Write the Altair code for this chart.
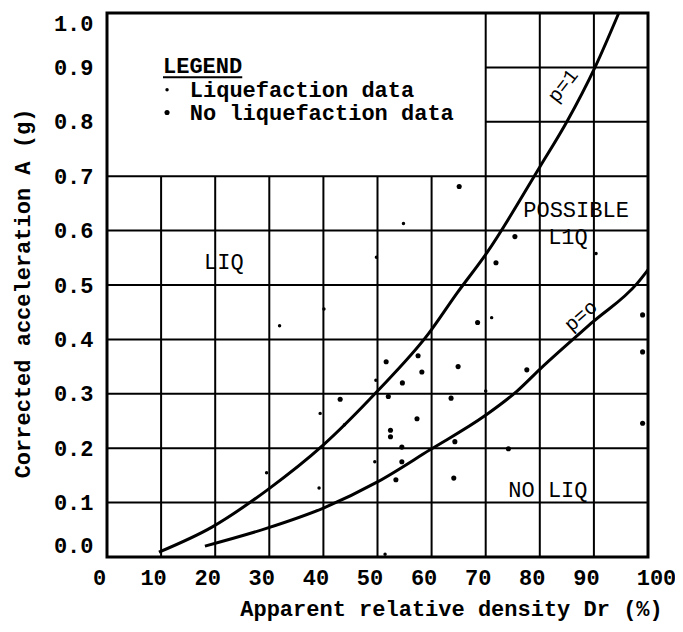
import altair as alt
import pandas as pd

# ---- axes -------------------------------------------------------------
x_ticks = [0, 10, 20, 30, 40, 50, 60, 70, 80, 90, 100]
y_ticks = [0.0, 0.1, 0.2, 0.3, 0.4, 0.5, 0.6, 0.7, 0.8, 0.9, 1.0]

# ---- grid (legend box occupies Dr < 70, A > 0.7) ----------------------
grid_x = [10, 20, 30, 40, 50, 60, 70, 80, 90]
grid_y = [0.1, 0.2, 0.3, 0.4, 0.5, 0.6, 0.7, 0.8, 0.9]
box_dr = 70
box_a = 0.7

# ---- boundary curves --------------------------------------------------
p1_dr = [9.6, 19.4, 29.6, 40.0, 50.0, 59.4, 64.7, 70.2, 80.0, 85.0, 90.2, 94.6]
p1_a = [0.009, 0.055, 0.123, 0.206, 0.305, 0.410, 0.485, 0.559, 0.717, 0.800, 0.900, 1.000]

p0_dr = [18.1, 29.6, 40.0, 50.0, 59.7, 69.9, 75.8, 80.0, 89.8, 98.0, 100.0]
p0_a = [0.020, 0.053, 0.090, 0.138, 0.197, 0.260, 0.305, 0.345, 0.432, 0.503, 0.528]

# ---- observations -----------------------------------------------------
liq_dr = [40.1, 29.5, 54.8, 71.1, 51.4, 70.0, 31.9, 43.9, 49.7, 39.4, 49.5, 39.2, 90.4, 49.8]
liq_a = [0.456, 0.155, 0.613, 0.440, 0.005, 0.305, 0.425, 0.243, 0.325, 0.264, 0.175, 0.127, 0.558, 0.551]

noliq_dr = [51.6, 52.0, 43.1, 52.4, 52.4, 65.1, 75.4, 71.9, 68.5, 57.5, 58.2, 54.6,
            64.9, 77.6, 63.6, 57.3, 54.5, 64.3, 74.2, 54.5, 53.4, 64.1, 99.0, 99.0, 99.0]
noliq_a = [0.359, 0.295, 0.290, 0.233, 0.221, 0.681, 0.589, 0.541, 0.431, 0.370, 0.340, 0.320,
           0.350, 0.344, 0.292, 0.254, 0.202, 0.212, 0.199, 0.175, 0.142, 0.145, 0.445, 0.377, 0.246]

# ---- annotations ------------------------------------------------------
region_text = ["LIQ", "POSSIBLE", "L1Q", "NO LIQ"]
region_dr = [21.6, 86.7, 85.2, 81.5]
region_a = [0.542, 0.638, 0.589, 0.123]

legend_title = "LEGEND"
legend_title_dr = 10.35
legend_title_a = 0.903
legend_text = ["Liquefaction data", "No liquefaction data"]
legend_series = ["Liquefaction", "No liquefaction"]
legend_dr = [11.1, 11.1]
legend_text_dr = [15.3, 15.3]
legend_a = [0.859, 0.817]

FONT = "Liberation Mono"
X = alt.Scale(domain=[0, 100], nice=False, zero=False)
Y = alt.Scale(domain=[0, 1], nice=False, zero=False)

# grid tables
vgrid = pd.DataFrame({"x": grid_x,
                      "y0": [0.0] * len(grid_x),
                      "y1": [1.0 if g >= box_dr else box_a for g in grid_x]})
hgrid = pd.DataFrame({"y": grid_y,
                      "x0": [box_dr if g > box_a + 1e-9 else 0 for g in grid_y],
                      "x1": [100] * len(grid_y)})

vrules = alt.Chart(vgrid).mark_rule(color="black", strokeWidth=2).encode(
    x=alt.X("x:Q", scale=X,
            axis=alt.Axis(values=x_ticks, title="Apparent relative density Dr (%)",
                          labelFlush=False,
                          labelOffset=alt.ExprRef("datum.value == 100 ? 8 : -8"),
                          titleX=344, titleY=51, titleAlign="center", titleBaseline="middle")),
    y=alt.Y("y0:Q", scale=Y,
            axis=alt.Axis(values=y_ticks, format=".1f", title="Corrected acceleration A (g)",
                          labelFlush=True,
                          titleX=-85, titleY=280, titleAngle=270,
                          titleAlign="center", titleBaseline="middle")),
    y2="y1:Q",
)
hrules = alt.Chart(hgrid).mark_rule(color="black", strokeWidth=2).encode(
    y=alt.Y("y:Q", scale=Y), x=alt.X("x0:Q", scale=X), x2="x1:Q"
)

curves = pd.concat([
    pd.DataFrame({"dr": p1_dr, "a": p1_a, "curve": "p=1"}),
    pd.DataFrame({"dr": p0_dr, "a": p0_a, "curve": "p=0"}),
])
lines = alt.Chart(curves).mark_line(color="black", strokeWidth=3, interpolate="monotone").encode(
    x=alt.X("dr:Q", scale=X), y=alt.Y("a:Q", scale=Y), detail="curve:N"
)

obs = pd.concat([
    pd.DataFrame({"dr": liq_dr, "a": liq_a, "series": "Liquefaction"}),
    pd.DataFrame({"dr": noliq_dr, "a": noliq_a, "series": "No liquefaction"}),
])
size_scale = alt.Scale(domain=["Liquefaction", "No liquefaction"], range=[12, 26])
points = alt.Chart(obs).mark_circle(color="black", opacity=1).encode(
    x=alt.X("dr:Q", scale=X), y=alt.Y("a:Q", scale=Y),
    size=alt.Size("series:N", scale=size_scale, legend=None),
)

regions = alt.Chart(pd.DataFrame({"t": region_text, "dr": region_dr, "a": region_a})).mark_text(
    font=FONT, fontSize=22, color="black", align="center", baseline="middle"
).encode(x=alt.X("dr:Q", scale=X), y=alt.Y("a:Q", scale=Y), text="t:N")

p1_label = alt.Chart(pd.DataFrame({"t": ["p=1"], "dr": [84.3], "a": [0.866]})).mark_text(
    font=FONT, fontSize=20, color="black", angle=308, align="center", baseline="middle"
).encode(x=alt.X("dr:Q", scale=X), y=alt.Y("a:Q", scale=Y), text="t:N")
p0_label = alt.Chart(pd.DataFrame({"t": ["p=o"], "dr": [87.6], "a": [0.443]})).mark_text(
    font=FONT, fontSize=20, color="black", angle=319, align="center", baseline="middle"
).encode(x=alt.X("dr:Q", scale=X), y=alt.Y("a:Q", scale=Y), text="t:N")

leg_title = alt.Chart(pd.DataFrame({"t": [legend_title], "dr": [legend_title_dr], "a": [legend_title_a]})).mark_text(
    font=FONT, fontSize=22, fontWeight="bold", color="black", align="left", baseline="middle"
).encode(x=alt.X("dr:Q", scale=X), y=alt.Y("a:Q", scale=Y), text="t:N")
leg_underline = alt.Chart(pd.DataFrame({"dr": [legend_title_dr], "dr2": [25.0], "a": [0.882]})).mark_rule(
    color="black", strokeWidth=2
).encode(x=alt.X("dr:Q", scale=X), x2="dr2:Q", y=alt.Y("a:Q", scale=Y))
leg_df = pd.DataFrame({"t": legend_text, "series": legend_series, "dr": legend_dr,
                       "tdr": legend_text_dr, "a": legend_a})
leg_pts = alt.Chart(leg_df).mark_circle(color="black", opacity=1).encode(
    x=alt.X("dr:Q", scale=X), y=alt.Y("a:Q", scale=Y),
    size=alt.Size("series:N", scale=size_scale, legend=None),
)
leg_txt = alt.Chart(leg_df).mark_text(
    font=FONT, fontSize=22, fontWeight="bold", color="black", align="left", baseline="middle"
).encode(x=alt.X("tdr:Q", scale=X), y=alt.Y("a:Q", scale=Y), text="t:N")

chart = alt.layer(
    vrules, hrules, lines, points, regions, p1_label, p0_label,
    leg_title, leg_underline, leg_pts, leg_txt
).properties(
    width=541, height=544,
    autosize=alt.AutoSizeParams(type="none"),
    padding={"left": 99, "top": 5, "right": 27, "bottom": 67},
).configure_view(
    stroke="black", strokeWidth=3
).configure_axis(
    domain=False, ticks=False, grid=False,
    labelFont=FONT, labelFontSize=22, labelFontWeight="bold", labelColor="black",
    titleFont=FONT, titleFontSize=22, titleFontWeight="bold", titleColor="black",
).configure_axisX(
    labelPadding=10
).configure_axisY(
    labelPadding=14
)

chart.save("out.html", embed_options={"renderer": "svg", "actions": False})
